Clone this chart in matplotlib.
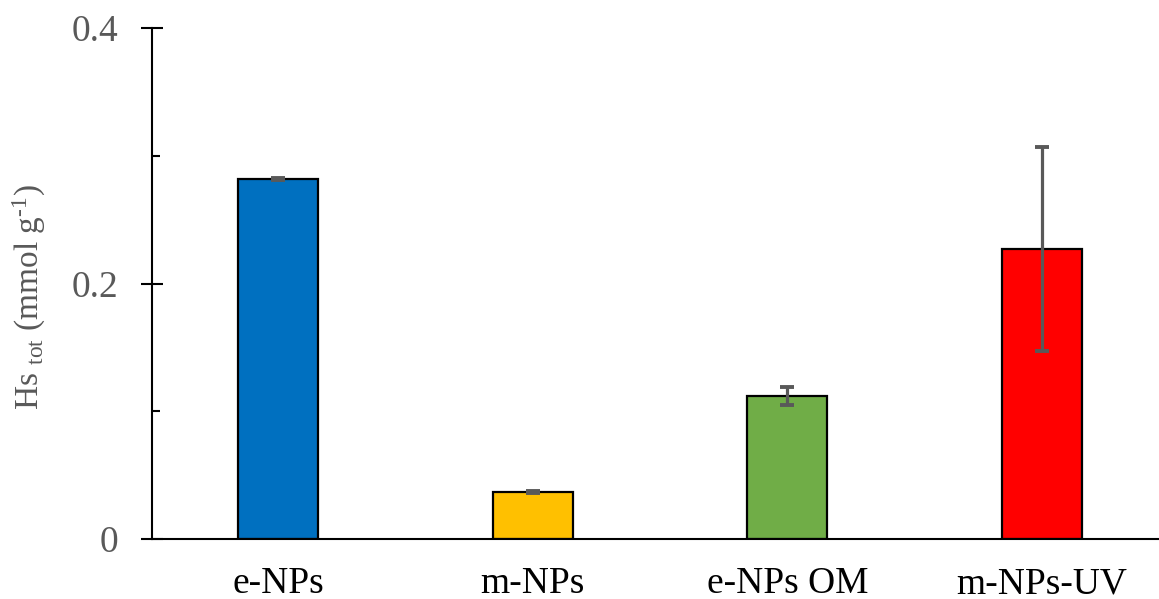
import numpy as np
import matplotlib
matplotlib.use('Agg')
import matplotlib.pyplot as plt
from matplotlib.ticker import MultipleLocator

plt.rcParams['font.family'] = ['Liberation Serif', 'DejaVu Serif']
plt.rcParams['mathtext.fontset'] = 'custom'
plt.rcParams['mathtext.rm'] = 'Liberation Serif'
plt.rcParams['mathtext.it'] = 'Liberation Serif:italic'

# data
categories = ['e-NPs', 'm-NPs', 'e-NPs OM', 'm-NPs-UV']
values = [0.282, 0.0368, 0.112, 0.227]
errors = [0.0008, 0.0008, 0.007, 0.080]
colors = ['#0070C0', '#FFC000', '#70AD47', '#FF0000']

grey = '#595959'

fig = plt.figure(figsize=(11.59, 5.99), dpi=100)
ax = fig.add_axes([152 / 1159, 1 - 539 / 599, 1 - 152 / 1159, (539 - 28) / 599])

x = np.arange(len(categories))
ax.bar(x, values, width=0.314, color=colors, edgecolor='black', linewidth=1.6,
       yerr=errors, error_kw=dict(ecolor=grey, elinewidth=2.3, capsize=5, capthick=2.8),
       zorder=2)

ax.set_xlim(-0.495, 3.46)
ax.set_ylim(0, 0.4)

ax.yaxis.set_minor_locator(MultipleLocator(0.1))
ax.set_yticks([0, 0.2, 0.4])
ax.set_yticklabels(['0', '0.2', '0.4'])
ax.tick_params(axis='y', which='major', direction='inout', length=16, width=1.5,
               labelsize=27, labelcolor=grey, pad=16)
ax.tick_params(axis='y', which='minor', direction='in', length=6, width=1.5)

ax.set_xticks(x)
ax.set_xticklabels(categories)
ax.tick_params(axis='x', length=0, labelsize=27, labelcolor='black', pad=20)

for side in ['top', 'right']:
    ax.spines[side].set_visible(False)
ax.spines['left'].set_linewidth(1.5)
ax.spines['bottom'].set_linewidth(1.5)

ax.set_ylabel(r'Hs $_{\mathrm{tot}}$ (mmol g$^{\text{-1}}$)', fontsize=24, color=grey)
ax.yaxis.set_label_coords(-0.103, 0.474)

fig.savefig('out.png', dpi=100)
